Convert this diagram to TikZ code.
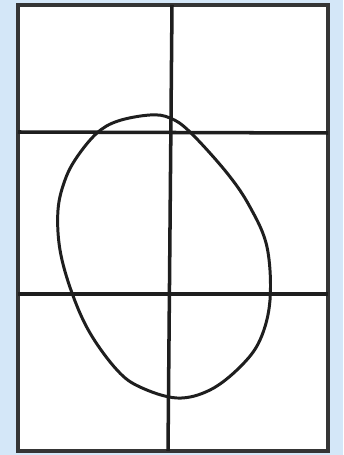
\documentclass[tikz,border=0pt]{standalone}
\usetikzlibrary{calc}
\definecolor{Sky}{HTML}{D4E7F8}
\definecolor{Ink}{HTML}{1E1E1E}

\begin{document}
\begin{tikzpicture}[x=.02cm,y=-.02cm,
    gridstyle/.style={draw=Ink,line width=2pt},
    framestyle/.style={draw=Ink!90,line width=2.7pt,fill=white},
    loopstyle/.style={draw=Ink,line width=1.7pt}]
    \fill[Sky] (0,0) rectangle (343,455);
    \useasboundingbox (0,0) rectangle (343,455);
    % sheet
    \draw[framestyle] (18,5) rectangle (328,451);
    \draw[gridstyle] (172,5) -- (168,451);
    \draw[gridstyle] (18,132) -- (328,133);
    \draw[gridstyle] (18,294) -- (328,294);
    % hand-drawn loop
    \draw[loopstyle] plot[smooth cycle,tension=.6] coordinates {
      (150,115) (170,118) (190,132) (227,173) (250,207) (267,247)
      (270,300) (260,340) (240,367) (210,390) (177,398) (140,387)
      (117,370) (90,333) (72,293) (60,250) (58,210) (65,180)
      (77,157) (97,133) (118,121)};
  \end{tikzpicture}
\end{document}
